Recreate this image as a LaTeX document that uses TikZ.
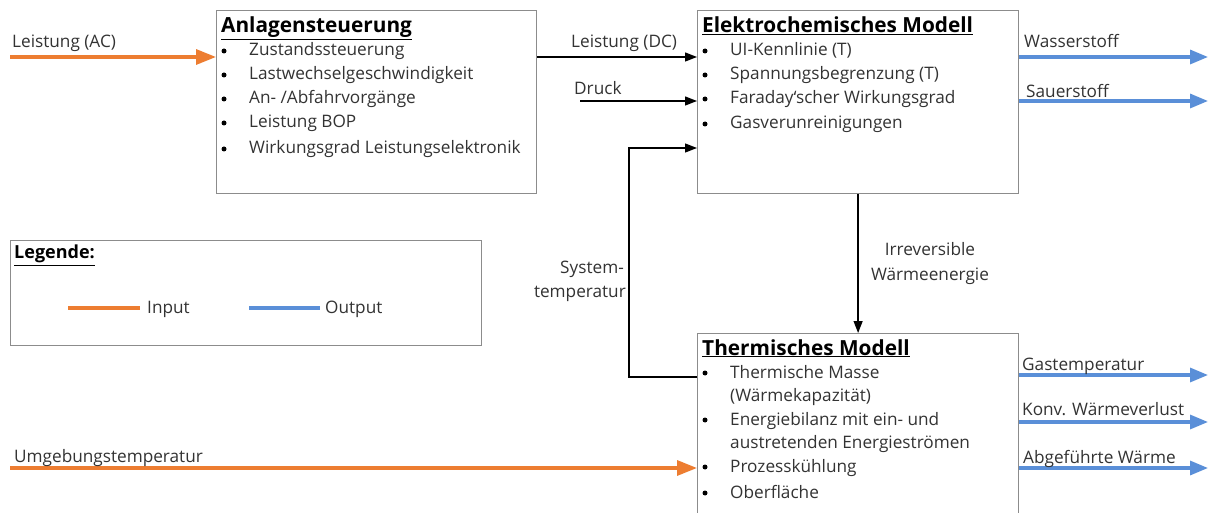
\documentclass[tikz,border=0pt]{standalone}
\usepackage{fontspec}
\setmainfont{Open Sans}
\usetikzlibrary{arrows.meta,calc}
\definecolor{inorange}{HTML}{ED7D31}
\definecolor{outblue}{HTML}{5A8FD8}
\definecolor{boxgray}{HTML}{8C8C8C}
\definecolor{txt}{HTML}{333333}
\begin{document}
\begin{tikzpicture}[x=1pt,y=-1pt,
  box/.style={draw=boxgray,line width=1.2pt,fill=white,inner sep=0pt,anchor=north west,rectangle},
  lbl/.style={inner sep=0pt,anchor=base west,text=txt,font=\fontsize{17.2}{20}\selectfont},
  ttl/.style={inner sep=0pt,anchor=base west,text=black,font=\fontsize{20.8}{24}\selectfont\bfseries},
  bul/.style={circle,fill=black,inner sep=0pt,minimum size=5pt},
  inarrow/.style={draw=inorange,line width=3.2pt,-{Triangle[length=20pt,width=15pt]}},
  outarrow/.style={draw=outblue,line width=3.2pt,-{Triangle[length=18pt,width=14pt]}},
  blkarrow/.style={draw=black,line width=1.3pt,-{Triangle[length=12pt,width=9pt]}},
]
\clip (0,0) rectangle (1208,513);
\fill[white] (0,0) rectangle (1208,513);
% boxes
\node[box,minimum width=320pt,minimum height=183pt] (A) at (216,10) {};
\node[box,minimum width=321pt,minimum height=183pt] (E) at (697,10) {};
\node[box,minimum width=321pt,minimum height=190pt] (T) at (697,333) {};
\node[box,minimum width=471pt,minimum height=105pt] (L) at (10,240) {};
% Anlagensteuerung content
\node[ttl] (At) at (221,33) {\underline{Anlagensteuerung}};
\node[bul] (Ab1) at (224,51) {}; \node[lbl] (A1) at (249,56) {Zustandssteuerung};
\node[bul] (Ab2) at (224,75) {}; \node[lbl] (A2) at (249,80) {Lastwechselgeschwindigkeit};
\node[bul] (Ab3) at (224,99) {}; \node[lbl] (A3) at (249,104) {An- /Abfahrvorgänge};
\node[bul] (Ab4) at (224,123) {}; \node[lbl] (A4) at (249,128) {Leistung BOP};
\node[bul] (Ab5) at (224,149) {}; \node[lbl] (A5) at (249,154) {Wirkungsgrad Leistungselektronik};
% Elektrochemisches Modell content
\node[ttl] (Et) at (702,33) {\underline{Elektrochemisches Modell}};
\node[bul] (Eb1) at (705,51) {}; \node[lbl] (E1) at (730,56) {UI-Kennlinie (T)};
\node[bul] (Eb2) at (705,75) {}; \node[lbl] (E2) at (730,80) {Spannungsbegrenzung (T)};
\node[bul] (Eb3) at (705,99) {}; \node[lbl] (E3) at (730,104) {Faraday‘scher Wirkungsgrad};
\node[bul] (Eb4) at (705,124) {}; \node[lbl] (E4) at (730,129) {Gasverunreinigungen};
% Thermisches Modell content
\node[ttl] (Tt) at (702,355) {\underline{Thermisches Modell}};
\node[bul] (Tb1) at (705,373) {}; \node[lbl] (T1) at (730,378) {Thermische Masse};
\node[lbl] (T1b) at (730,401) {(Wärmekapazität)};
\node[bul] (Tb2) at (705,420) {}; \node[lbl] (T2) at (730,425) {Energiebilanz mit ein- und};
\node[lbl] (T2b) at (730,448) {austretenden Energieströmen};
\node[bul] (Tb3) at (705,467) {}; \node[lbl] (T3) at (730,472) {Prozesskühlung};
\node[bul] (Tb4) at (705,493) {}; \node[lbl] (T4) at (730,498) {Oberfläche};
% legend
\node[ttl,font=\fontsize{18}{21}\selectfont\bfseries] (Lt) at (14,259) {\underline{Legende:}};
\coordinate (li1) at (68,308); \coordinate (li2) at (140,308);
\coordinate (lo1) at (249,308); \coordinate (lo2) at (320,308);
\draw[inorange,line width=3.2pt] (li1) -- (li2);
\draw[outblue,line width=3.2pt] (lo1) -- (lo2);
\node[lbl] (Lin) at (147,313) {Input};
\node[lbl] (Lout) at (325,313) {Output};
% inputs
\coordinate (ac) at (10,57);
\draw[inarrow] (ac) -- (ac -| A.west);
\node[lbl] (acl) at (12,48) {Leistung (AC)};
\draw[blkarrow] (A.east |- 0,57) -- (E.west |- 0,57);
\node[lbl] (dcl) at (571,48) {Leistung (DC)};
\coordinate (dr) at (580,101);
\draw[blkarrow] (dr) -- (dr -| E.west);
\node[lbl] (drl) at (574,95) {Druck};
\coordinate (st1) at (629,377);
\coordinate (st2) at (629,148);
\draw[blkarrow] (T.west |- st1) -- (st1) -- (st2) -- (st2 -| E.west);
\node[lbl,anchor=base east] (stl1) at (624,274) {System-};
\node[lbl,anchor=base east] (stl2) at (626,298) {temperatur};
\draw[blkarrow] (E.south) -- (T.north);
\node[lbl,anchor=base] (irl1) at (930,256) {Irreversible};
\node[lbl,anchor=base] (irl2) at (930,280) {Wärmeenergie};
\coordinate (ug) at (10,468);
\draw[inarrow] (ug) -- (ug -| T.west);
\node[lbl] (ugl) at (14,462) {Umgebungstemperatur};
% outputs
\coordinate (o1) at (1208,57);
\coordinate (o2) at (1208,101);
\coordinate (o3) at (1208,375);
\coordinate (o4) at (1208,422);
\coordinate (o5) at (1208,468);
\draw[outarrow] (E.east |- o1) -- (o1);
\draw[outarrow] (E.east |- o2) -- (o2);
\draw[outarrow] (T.east |- o3) -- (o3);
\draw[outarrow] (T.east |- o4) -- (o4);
\draw[outarrow] (T.east |- o5) -- (o5);
\node[lbl] (o1l) at (1024,48) {Wasserstoff};
\node[lbl] (o2l) at (1026,98) {Sauerstoff};
\node[lbl] (o3l) at (1022,370) {Gastemperatur};
\node[lbl] (o4l) at (1022,415) {Konv. Wärmeverlust};
\node[lbl] (o5l) at (1023,463) {Abgeführte Wärme};
\end{tikzpicture}
\end{document}
